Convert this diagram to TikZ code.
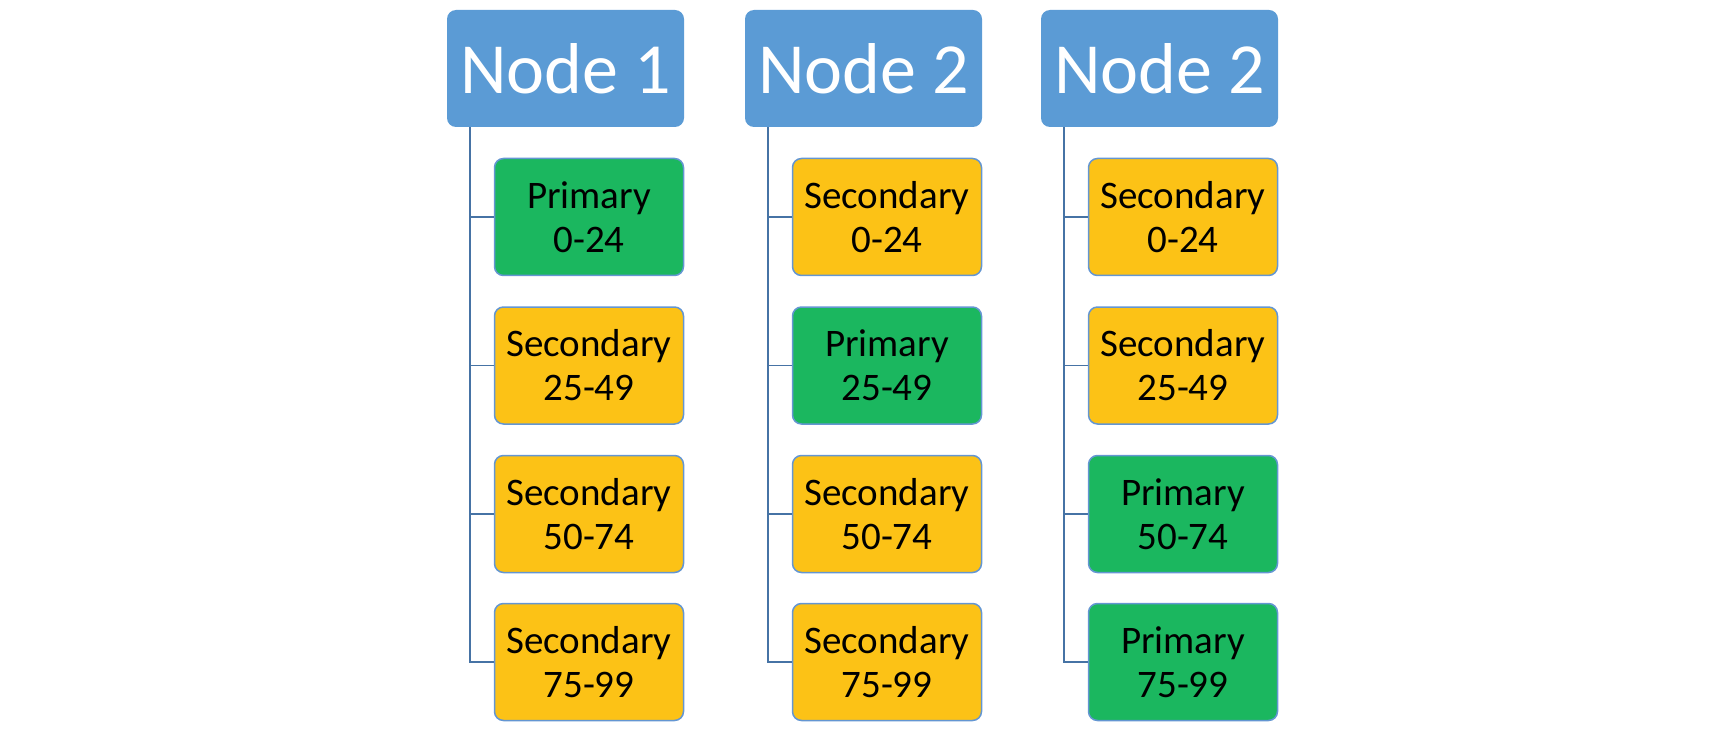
\documentclass[tikz,border=0pt]{standalone}
\usepackage{fontspec}
\setmainfont{Carlito}
\usetikzlibrary{calc}
\definecolor{hdrblue}{RGB}{91,155,213}
\definecolor{boxgreen}{RGB}{27,183,95}
\definecolor{boxyellow}{RGB}{252,194,22}
\definecolor{edgeblue}{RGB}{100,150,210}
\definecolor{linkblue}{RGB}{70,115,165}
\begin{document}
\begin{tikzpicture}[x=1pt,y=-1pt,
  header/.style={fill=hdrblue, draw=none, rounded corners=9pt, minimum width=237pt, minimum height=117pt,
    inner sep=0pt, text=white, font=\fontsize{72}{80}\selectfont},
  child/.style={draw=edgeblue, line width=1.5pt, rounded corners=9pt, minimum width=189pt, minimum height=117pt,
    inner sep=0pt, align=center, text=black, font=\fontsize{39}{44}\selectfont},
  prim/.style={child, fill=boxgreen},
  sec/.style={child, fill=boxyellow},
  link/.style={draw=linkblue, line width=1.8pt}]
\useasboundingbox (0,0) rectangle (1725,730);
% headers
\node[header] (h1) at (565.5,68.5) {Node 1};
\node[header] (h2) at (863.5,68.5) {Node 2};
\node[header] (h3) at (1159.5,68.5) {Node 2};
% column 1
\node[prim] (a1) at (589,217) {Primary\\0-24};
\node[sec]  (a2) at (589,365.5) {Secondary\\25-49};
\node[sec]  (a3) at (589,514) {Secondary\\50-74};
\node[sec]  (a4) at (589,662) {Secondary\\75-99};
% column 2
\node[sec]  (b1) at (887,217) {Secondary\\0-24};
\node[prim] (b2) at (887,365.5) {Primary\\25-49};
\node[sec]  (b3) at (887,514) {Secondary\\50-74};
\node[sec]  (b4) at (887,662) {Secondary\\75-99};
% column 3
\node[sec]  (c1) at (1183,217) {Secondary\\0-24};
\node[sec]  (c2) at (1183,365.5) {Secondary\\25-49};
\node[prim] (c3) at (1183,514) {Primary\\50-74};
\node[prim] (c4) at (1183,662) {Primary\\75-99};
% trunk tops
\coordinate (ta) at ($(h1.south west)+(23.5,0)$);
\coordinate (tb) at ($(h2.south west)+(23.5,0)$);
\coordinate (tc) at ($(h3.south west)+(23.5,0)$);
% connectors
\foreach \t/\p in {ta/a, tb/b, tc/c}{
  \draw[link] (\t) |- (\p4.west);
  \foreach \k in {1,2,3}{
    \draw[link] (\t |- \p\k.west) -- (\p\k.west);
  }
}
\end{tikzpicture}
\end{document}
